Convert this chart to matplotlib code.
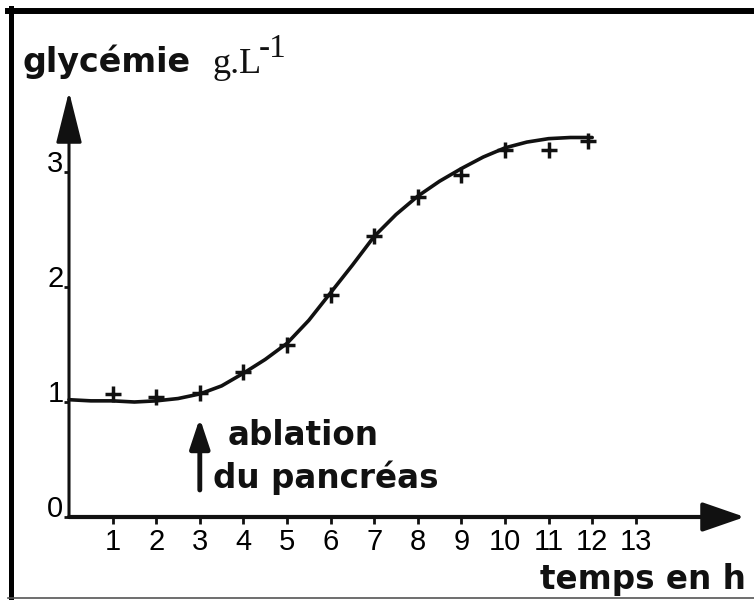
import matplotlib.pyplot as plt
from matplotlib.lines import Line2D

# measured glycaemia (crosses), hours after start
hours = [1, 2, 3, 4, 5, 6, 7, 8, 9, 10, 11, 11.9]
glycemie = [1.07, 1.04, 1.08, 1.26, 1.50, 1.93, 2.44, 2.78, 2.97, 3.19, 3.19, 3.27]

# smooth trend curve every half hour
curve_h = [0, 0.5, 1, 1.5, 2, 2.5, 3, 3.5, 4, 4.5, 5, 5.5, 6, 6.5, 7, 7.5,
           8, 8.5, 9, 9.5, 10, 10.5, 11, 11.5, 12]
curve_g = [1.02, 1.01, 1.01, 1.00, 1.01, 1.03, 1.07, 1.14, 1.25, 1.37, 1.51, 1.71,
           1.95, 2.19, 2.44, 2.63, 2.79, 2.92, 3.03, 3.13, 3.21, 3.26, 3.29, 3.30, 3.30]

x_ticks = list(range(1, 14))
y_ticks = [0, 1, 2, 3]

W, H = 754, 600
fig = plt.figure(figsize=(W / 100, H / 100), dpi=100)
fig.patch.set_facecolor('white')

# axes origin placed at pixel (69, 517)
ax = fig.add_axes([69 / W, (H - 517) / H, (W - 69) / W, 517 / H])
ax.set_xlim(0, (W - 69) / 43.6)
ax.set_ylim(0, 517 / 115)
ax.patch.set_alpha(0)
for s in ax.spines.values():
    s.set_visible(False)

tick_font = ['Liberation Sans Narrow', 'Liberation Sans', 'DejaVu Sans']
ax.set_xticks(x_ticks)
ax.set_xticklabels([str(t) for t in x_ticks], family=tick_font, fontsize=21)
ax.set_yticks(y_ticks)
ax.set_yticklabels([str(t) for t in y_ticks], family=tick_font, fontsize=21)
ax.tick_params(axis='x', direction='out', length=5, width=2, pad=3, color='#111111')
ax.tick_params(axis='y', direction='out', length=3.5, width=2, pad=0.5, color='#111111')
for lab in ax.get_yticklabels():
    lab.set_verticalalignment('baseline')

# axis arrows
ax.annotate('', xy=(15.5, 0), xytext=(0, 0), annotation_clip=False,
            arrowprops=dict(arrowstyle='-|>,head_length=1.3,head_width=0.45',
                            mutation_scale=20, lw=3, color='#111111',
                            shrinkA=0, shrinkB=0))
ax.annotate('', xy=(0, 3.70), xytext=(0, 0), annotation_clip=False,
            arrowprops=dict(arrowstyle='-|>,head_length=1.6,head_width=0.4',
                            mutation_scale=20, lw=2.2, color='#111111',
                            shrinkA=0, shrinkB=0))

# curve and measurement points
ax.plot(curve_h, curve_g, color='#111111', lw=2.6, solid_capstyle='round', clip_on=False)
ax.plot(hours, glycemie, linestyle='none', marker='+', markersize=11, mew=2.5,
        color='#111111', clip_on=False)

# pancreas ablation arrow at t = 3 h
ax.annotate('', xy=(3, 0.86), xytext=(3, 0.235), annotation_clip=False,
            arrowprops=dict(arrowstyle='-|>,head_length=0.9,head_width=0.3',
                            mutation_scale=20, lw=3.5, color='#111111',
                            shrinkA=0, shrinkB=0))

bold = dict(family='DejaVu Sans', weight='bold', color='#111111', va='baseline')


def px(x, y):
    return x / W, 1 - y / H


fig.text(*px(22, 72), 'glycémie', fontsize=24, **bold)
fig.text(*px(212, 73), 'g.L', family='Liberation Serif', fontsize=26,
         color='#111111', va='baseline')
fig.text(*px(259, 57), '-1', family='Liberation Serif', fontsize=24,
         color='#111111', va='baseline')
fig.text(*px(228, 445), 'ablation', fontsize=23.5, **bold)
fig.text(*px(213, 488), 'du pancréas', fontsize=23.5, **bold)
fig.text(*px(540, 589), 'temps en h', fontsize=23.5, **bold)

# frame of the scanned figure
fig.add_artist(Line2D([10.5 / W, 10.5 / W], [1 - 8 / H, 1 - 598 / H],
                      transform=fig.transFigure, color='black', lw=3.6))
fig.add_artist(Line2D([8 / W, 1], [1 - 11 / H, 1 - 11 / H],
                      transform=fig.transFigure, color='black', lw=4.3))
fig.add_artist(Line2D([8 / W, 1], [1 - 598 / H, 1 - 598 / H],
                      transform=fig.transFigure, color='#555555', lw=1.2))

fig.savefig('out.png', dpi=100)
